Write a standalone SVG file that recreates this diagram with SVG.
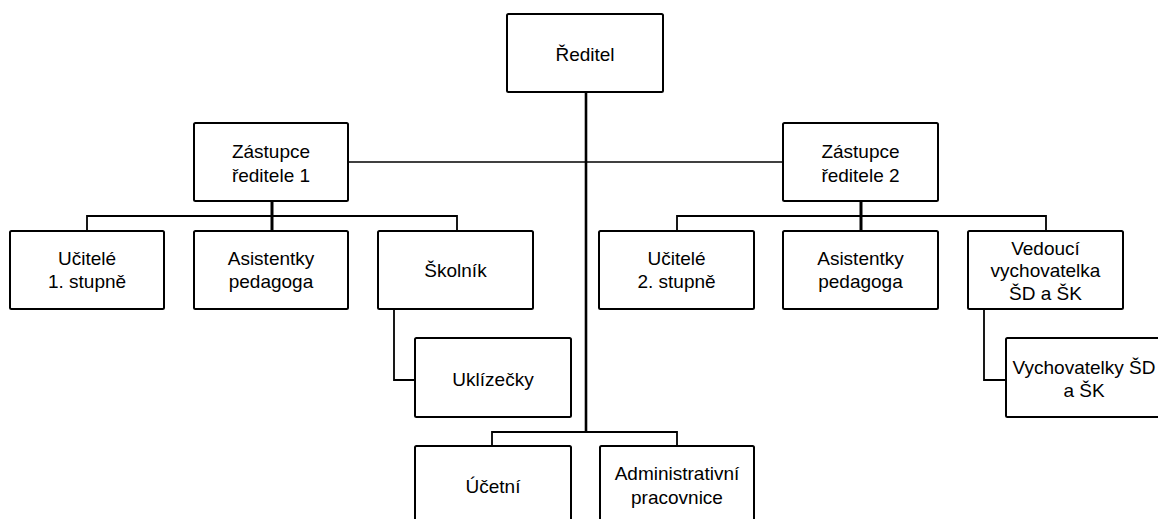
<svg xmlns="http://www.w3.org/2000/svg" width="1158" height="519" viewBox="0 0 1158 519">
<style>
.box{fill:#fff;stroke:#000;stroke-width:2;}
.t{font-family:"Liberation Sans",Arial,sans-serif;font-size:19px;fill:#000;text-anchor:middle;}
.c{fill:none;stroke:#000;stroke-width:1.8;}
.thick{fill:none;stroke:#000;stroke-width:3;}
.main{fill:none;stroke:#000;stroke-width:2.6;}
.thin{fill:none;stroke:#000;stroke-width:1.4;}
</style>
<rect width="1158" height="519" fill="#fff"/>
<g id="connectors">
<path class="thin" d="M348 162 H783"/>
<path class="main" d="M586 92 V432"/>
<path class="c" d="M492 446 V432 H677 V446"/>
<path class="c" d="M87 231 V216 H457 V231"/>
<path class="thick" d="M272 201 V231"/>
<path class="c" d="M677 231 V216 H1046 V231"/>
<path class="thick" d="M861 201 V231"/>
<path class="c" d="M394 309 V380 H415"/>
<path class="c" d="M984 309 V380 H1006"/>
</g>
<g id="reditel"><rect class="box" x="507" y="14" width="156" height="78" rx="1.5"/><text class="t" x="585" y="61">Ředitel</text></g>
<g id="zastupce1"><rect class="box" x="194" y="123" width="154" height="78" rx="1.5"/><text class="t" x="271" y="158">Zástupce</text><text class="t" x="271" y="181.5">ředitele 1</text></g>
<g id="zastupce2"><rect class="box" x="783" y="123" width="155" height="78" rx="1.5"/><text class="t" x="860.5" y="158">Zástupce</text><text class="t" x="860.5" y="181.5">ředitele 2</text></g>
<g id="ucitele1"><rect class="box" x="10" y="231" width="154" height="78" rx="1.5"/><text class="t" x="87" y="264.5">Učitelé</text><text class="t" x="87" y="288">1. stupně</text></g>
<g id="asistentky1"><rect class="box" x="194" y="231" width="154" height="78" rx="1.5"/><text class="t" x="271" y="264.5">Asistentky</text><text class="t" x="271" y="288">pedagoga</text></g>
<g id="skolnik"><rect class="box" x="378" y="231" width="155" height="78" rx="1.5"/><text class="t" x="455.5" y="277">Školník</text></g>
<g id="uklizecky"><rect class="box" x="415" y="338" width="156" height="79" rx="1.5"/><text class="t" x="493" y="386">Uklízečky</text></g>
<g id="ucetni"><rect class="box" x="415" y="446" width="156" height="80" rx="1.5"/><text class="t" x="493" y="493">Účetní</text></g>
<g id="administrativni"><rect class="box" x="600" y="446" width="154" height="80" rx="1.5"/><text class="t" x="677" y="480">Administrativní</text><text class="t" x="677" y="503.5">pracovnice</text></g>
<g id="ucitele2"><rect class="box" x="599" y="231" width="155" height="78" rx="1.5"/><text class="t" x="676.5" y="264.5">Učitelé</text><text class="t" x="676.5" y="288">2. stupně</text></g>
<g id="asistentky2"><rect class="box" x="783" y="231" width="155" height="78" rx="1.5"/><text class="t" x="860.5" y="264.5">Asistentky</text><text class="t" x="860.5" y="288">pedagoga</text></g>
<g id="vedouci"><rect class="box" x="968" y="231" width="155" height="78" rx="1.5"/><text class="t" x="1045.5" y="254.5">Vedoucí</text><text class="t" x="1045.5" y="277">vychovatelka</text><text class="t" x="1045.5" y="299.5">ŠD a ŠK</text></g>
<g id="vychovatelky"><rect class="box" x="1006" y="338" width="156" height="79" rx="1.5"/><text class="t" x="1084" y="374">Vychovatelky ŠD</text><text class="t" x="1084" y="397">a ŠK</text></g>
</svg>
